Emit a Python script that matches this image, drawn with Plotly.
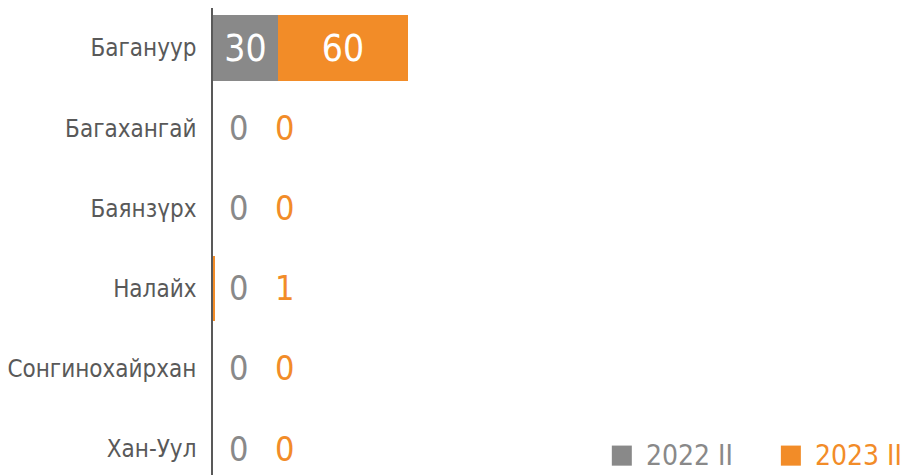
import plotly.graph_objects as go

# Districts, top to bottom
districts = ["Багануур", "Багахангай", "Баянзүрх", "Налайх", "Сонгинохайрхан", "Хан-Уул"]
series_names = ["2022 II", "2023 II"]
values_2022 = [30, 0, 0, 0, 0, 0]
values_2023 = [60, 0, 0, 1, 0, 0]

GRAY = "#898989"
ORANGE = "#F28C28"
FONT = "DejaVu Sans Condensed, sans-serif"

fig = go.Figure()
for name, vals, col in [(series_names[0], values_2022, GRAY), (series_names[1], values_2023, ORANGE)]:
    fig.add_trace(go.Bar(
        y=districts, x=vals, orientation="h", name=name,
        marker=dict(color=col, line=dict(width=0)),
        text=[str(v) if v >= 5 else "" for v in vals],
        textposition="inside", insidetextanchor="middle",
        textfont=dict(color="white", size=37, family=FONT),
        showlegend=False,
    ))

# labels for bars too short to hold their value
for i, d in enumerate(districts):
    for vals, col, shift in [(values_2022, GRAY, 25), (values_2023, ORANGE, 71)]:
        if vals[i] < 5:
            fig.add_annotation(x=0, y=d, xref="x", yref="y", text=str(vals[i]),
                               showarrow=False, xanchor="center", xshift=shift,
                               font=dict(color=col, size=34, family=FONT))

# legend in the lower right corner
for xs, col, name in [(0.578, GRAY, series_names[0]), (0.823, ORANGE, series_names[1])]:
    fig.add_shape(type="rect", xref="paper", yref="paper",
                  x0=xs, x1=xs + 20 / 690, y0=0.02, y1=0.063,
                  fillcolor=col, line=dict(width=0))
    fig.add_annotation(xref="paper", yref="paper", x=xs + 32 / 690, y=0.042,
                       text=name, showarrow=False, xanchor="left", yanchor="middle",
                       font=dict(color=col, size=28, family=FONT))

fig.update_layout(
    width=903, height=475,
    margin=dict(l=213, r=0, t=8, b=0),
    barmode="stack", bargap=0.18,
    plot_bgcolor="white", paper_bgcolor="white",
    xaxis=dict(range=[0, 318.5], visible=False),
    yaxis=dict(range=[5.33, -0.5], showgrid=False, zeroline=False, automargin=False,
               showline=True, linecolor="#595959", linewidth=1.5,
               ticks="", ticklabelstandoff=10,
               tickfont=dict(size=24, color="#595959", family=FONT)),
)

fig.write_html("out.html")
